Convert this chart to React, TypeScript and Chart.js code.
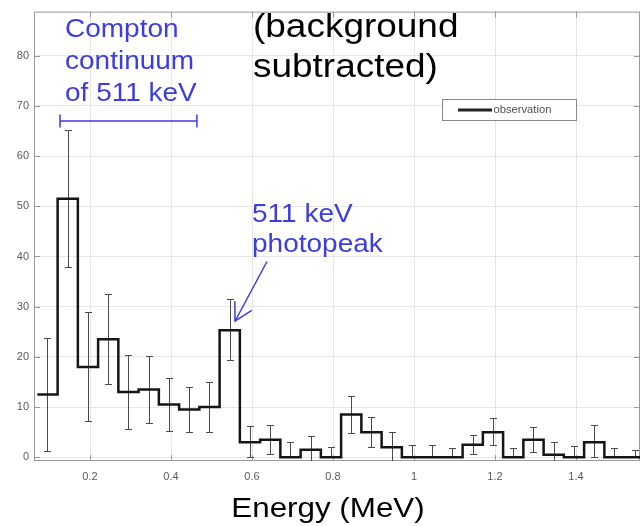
import { useEffect, useRef } from "react";
import { Chart, registerables } from "chart.js";

Chart.register(...registerables);

// Energy bin centres (MeV); every bin is 0.05 MeV wide
const binCenters = [
  0.095, 0.145, 0.195, 0.245, 0.295, 0.345, 0.395, 0.445, 0.495, 0.545,
  0.595, 0.645, 0.695, 0.745, 0.795, 0.845, 0.895, 0.945, 0.995, 1.045,
  1.095, 1.145, 1.195, 1.245, 1.295, 1.345, 1.395, 1.445, 1.495, 1.545,
];
const BIN_WIDTH = 0.05;

// Background-subtracted counts per bin
const counts = [
  12.5, 51.5, 18, 23.5, 13, 13.5, 10.5, 9.5, 10, 25.3,
  3, 3.5, 0, 1.5, 0, 8.5, 5, 2, 0, 0,
  0, 2.5, 5, 0, 3.5, 0.5, 0, 3, 0, 0,
];

// Lower and upper ends of each error bar
const errLow = [
  1.3, 38.0, 7.3, 14.5, 5.6, 6.9, 5.3, 5.1, 5.1, 19.3,
  0, 0.7, 0, -1.0, 0, 4.9, 2.1, -0.9, 0, 0,
  0, 0.7, 2.4, 0, 1.0, -1.0, 0, 0, 0, 0,
];
const errHigh = [
  23.8, 65.3, 28.9, 32.6, 20.4, 20.2, 15.8, 14.0, 15.0, 31.6,
  6.2, 6.4, 3.0, 4.2, 2.1, 12.3, 8.1, 5.0, 2.4, 2.5,
  1.9, 4.5, 7.8, 1.8, 6.1, 3.0, 2.2, 6.4, 1.8, 1.4,
];

const xTicks = [0.2, 0.4, 0.6, 0.8, 1, 1.2, 1.4];
const yTicks = [0, 10, 20, 30, 40, 50, 60, 70, 80];

const FONT = '"Liberation Sans", Arial, Helvetica, sans-serif';
const BLUE = "#3c3ce0";
const SX = 1.12; // horizontal text stretch

function drawText(
  ctx: CanvasRenderingContext2D,
  text: string,
  x: number,
  y: number,
  size: number,
  color: string,
  align: CanvasTextAlign = "left",
  baseline: CanvasTextBaseline = "alphabetic"
) {
  ctx.save();
  ctx.font = `${size}px ${FONT}`;
  ctx.fillStyle = color;
  ctx.textAlign = align;
  ctx.textBaseline = baseline;
  ctx.translate(x, y);
  ctx.scale(SX, 1);
  ctx.fillText(text, 0, 0);
  ctx.restore();
}

const overlay = {
  id: "overlay",
  beforeDatasetsDraw(chart: any) {
    const { ctx, chartArea: a, scales } = chart;
    const xs = scales.x;
    const ys = scales.y;

    // plot frame with inward tick marks
    ctx.save();
    ctx.strokeStyle = "#9a9a9a";
    ctx.lineWidth = 1;
    ctx.strokeRect(a.left + 0.5, a.top + 0.5, a.right - a.left - 1, a.bottom - a.top - 1);
    ctx.beginPath();
    xTicks.forEach((v) => {
      const px = Math.round(xs.getPixelForValue(v)) + 0.5;
      ctx.moveTo(px, a.bottom);
      ctx.lineTo(px, a.bottom - 6);
      ctx.moveTo(px, a.top);
      ctx.lineTo(px, a.top + 6);
    });
    yTicks.forEach((v) => {
      const py = Math.round(ys.getPixelForValue(v)) + 0.5;
      ctx.moveTo(a.left, py);
      ctx.lineTo(a.left + 6, py);
      ctx.moveTo(a.right, py);
      ctx.lineTo(a.right - 6, py);
    });
    ctx.stroke();
    ctx.restore();

    // error bars
    ctx.save();
    ctx.beginPath();
    ctx.rect(a.left, a.top, a.right - a.left, a.bottom - a.top);
    ctx.clip();
    ctx.strokeStyle = "#4a4a4a";
    ctx.lineWidth = 1;
    ctx.beginPath();
    binCenters.forEach((c, i) => {
      const px = Math.round(xs.getPixelForValue(c)) + 0.5;
      const y1 = Math.round(ys.getPixelForValue(errLow[i])) + 0.5;
      const y2 = Math.round(ys.getPixelForValue(errHigh[i])) + 0.5;
      ctx.moveTo(px, y1);
      ctx.lineTo(px, y2);
      ctx.moveTo(px - 3.5, y1);
      ctx.lineTo(px + 3.5, y1);
      ctx.moveTo(px - 3.5, y2);
      ctx.lineTo(px + 3.5, y2);
    });
    ctx.stroke();
    ctx.restore();
  },
  afterDatasetsDraw(chart: any) {
    const { ctx, scales } = chart;
    const xs = scales.x;
    const ys = scales.y;

    // legend
    ctx.save();
    ctx.fillStyle = "#ffffff";
    ctx.fillRect(442, 99.5, 135, 21);
    ctx.strokeStyle = "#8a8a8a";
    ctx.lineWidth = 1;
    ctx.strokeRect(442.5, 99.5, 134, 21);
    ctx.strokeStyle = "#222222";
    ctx.lineWidth = 3;
    ctx.beginPath();
    ctx.moveTo(458, 110);
    ctx.lineTo(492, 110);
    ctx.stroke();
    ctx.restore();
    drawText(ctx, "observation", 493.5, 110.5, 10, "#505050", "left", "middle");

    // Compton continuum bracket
    ctx.save();
    ctx.strokeStyle = BLUE;
    ctx.lineWidth = 1.5;
    const bx1 = xs.getPixelForValue(0.126);
    const bx2 = xs.getPixelForValue(0.464);
    const by = ys.getPixelForValue(67);
    ctx.beginPath();
    ctx.moveTo(bx1, by);
    ctx.lineTo(bx2, by);
    ctx.moveTo(bx1, by - 6.5);
    ctx.lineTo(bx1, by + 6.5);
    ctx.moveTo(bx2, by - 6.5);
    ctx.lineTo(bx2, by + 6.5);
    ctx.stroke();

    // arrow pointing to the 511 keV peak
    const sx = xs.getPixelForValue(0.637);
    const sy = ys.getPixelForValue(39);
    const tx = xs.getPixelForValue(0.558);
    const ty = ys.getPixelForValue(27.1);
    const ang = Math.atan2(sy - ty, sx - tx);
    const hl = 20;
    ctx.beginPath();
    ctx.moveTo(sx, sy);
    ctx.lineTo(tx, ty);
    ctx.moveTo(tx + hl * Math.cos(ang - 0.5), ty + hl * Math.sin(ang - 0.5));
    ctx.lineTo(tx, ty);
    ctx.lineTo(tx + hl * Math.cos(ang + 0.5), ty + hl * Math.sin(ang + 0.5));
    ctx.stroke();
    ctx.restore();

    // annotations
    drawText(ctx, "Compton", 65, 36.7, 25, BLUE);
    drawText(ctx, "continuum", 65, 69, 25, BLUE);
    drawText(ctx, "of 511 keV", 65, 101, 25, BLUE);
    drawText(ctx, "511 keV", 252, 221.7, 25, BLUE);
    drawText(ctx, "photopeak", 252, 251.7, 25, BLUE);
    drawText(ctx, "(background", 253, 36.7, 33, "#000000");
    drawText(ctx, "subtracted)", 253, 76.7, 33, "#000000");

    // x-axis title
    drawText(ctx, "Energy (MeV)", 328, 516.7, 28, "#000000", "center");
  },
};

export default function App() {
  const canvasRef = useRef<HTMLCanvasElement | null>(null);

  useEffect(() => {
    const canvas = canvasRef.current;
    if (!canvas) return;

    const stairs = binCenters.map((c, i) => ({ x: c - BIN_WIDTH / 2, y: counts[i] }));
    stairs.push({
      x: binCenters[binCenters.length - 1] + BIN_WIDTH / 2,
      y: counts[counts.length - 1],
    });

    const chart = new Chart(canvas, {
      type: "line",
      data: {
        datasets: [
          {
            label: "observation",
            data: stairs,
            stepped: true,
            borderColor: "#151515",
            borderWidth: 2.5,
            pointRadius: 0,
            fill: false,
          },
        ],
      },
      options: {
        animation: false,
        responsive: false,
        devicePixelRatio: 1,
        layout: { padding: { top: 7, right: 2, left: 0, bottom: 0 } },
        plugins: {
          legend: { display: false },
          tooltip: { enabled: false },
        },
        scales: {
          x: {
            type: "linear",
            min: 0.0617,
            max: 1.558,
            afterBuildTicks: (s: any) => {
              s.ticks = xTicks.map((v) => ({ value: v }));
            },
            afterFit: (s: any) => {
              s.height = 65;
            },
            grid: { color: "#e6e6e6", drawTicks: false },
            border: { display: false },
            ticks: {
              padding: 9,
              color: "#5a5a5a",
              font: { family: FONT, size: 11 },
              maxRotation: 0,
              callback: (v: any) => String(v),
            },
          },
          y: {
            type: "linear",
            min: -0.75,
            max: 88.8,
            afterBuildTicks: (s: any) => {
              s.ticks = yTicks.map((v) => ({ value: v }));
            },
            afterFit: (s: any) => {
              s.width = 34;
            },
            grid: { color: "#e6e6e6", drawTicks: false },
            border: { display: false },
            ticks: {
              padding: 5,
              color: "#5a5a5a",
              font: { family: FONT, size: 11 },
              callback: (v: any) => String(v),
            },
          },
        },
      },
      plugins: [overlay],
    });

    return () => chart.destroy();
  }, []);

  return (
    <div style={{ position: "absolute", left: 0, top: 0, width: 642, height: 526, background: "#ffffff" }}>
      <canvas ref={canvasRef} width={642} height={526} style={{ width: 642, height: 526, display: "block" }} />
    </div>
  );
}
